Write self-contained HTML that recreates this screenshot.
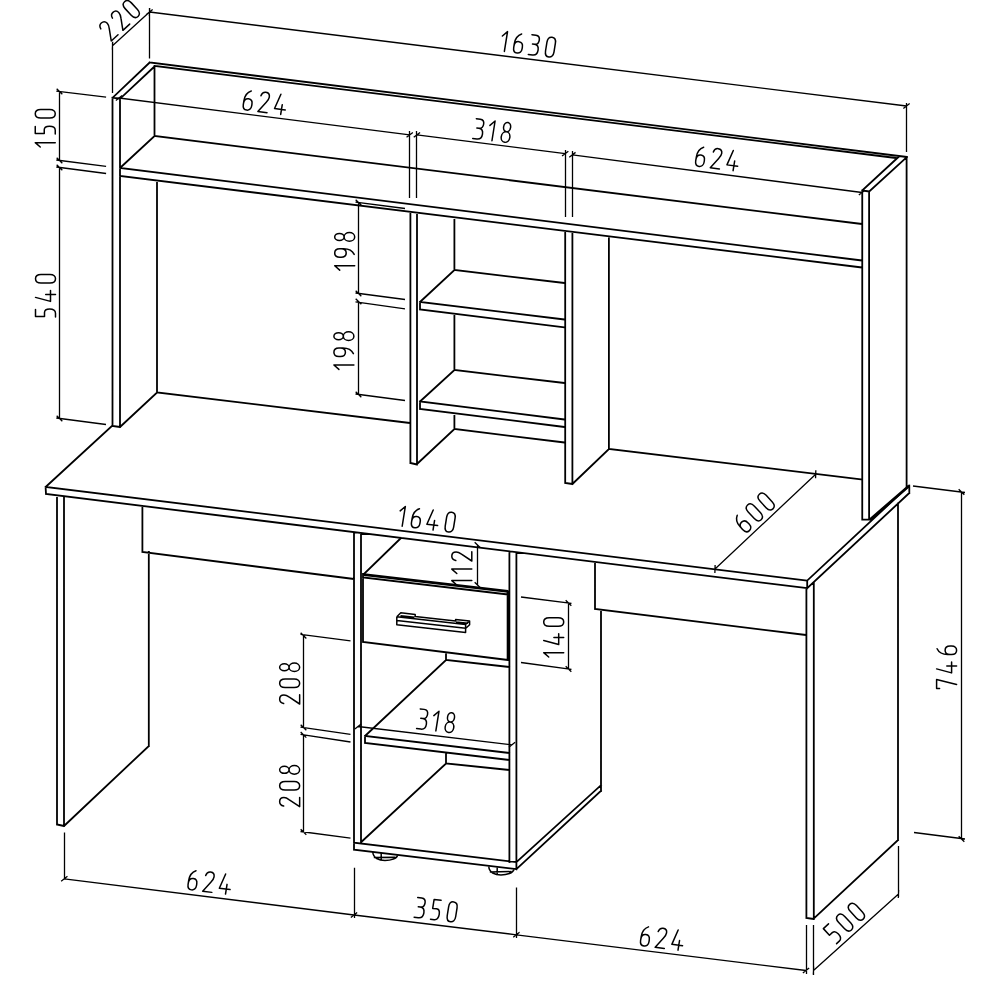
<!DOCTYPE html>
<html><head><meta charset="utf-8"><style>
html,body{margin:0;padding:0;background:#fff;width:1000px;height:1000px;overflow:hidden}
svg{display:block}
</style></head><body>
<svg width="1000" height="1000" viewBox="0 0 1000 1000">
<rect width="1000" height="1000" fill="#fff"/>
<path d="M112.5 97.8 L112.5 426 M120 98.5 L120 427 M112.5 426 L120 427 M112.5 97.8 L120 98.5 M112.5 97.8 L149.7 62.5 M120.5 98.3 L155 66 M149.7 62.5 L907 157 M155 66 L896 158 M154.5 66 L154.5 136 M154.5 136 L120 168 M154.5 136 L862 224 M120 168 L862 260.5 M120 176 L862 267.5 M157 180.6 L157 392.5 M157 392.5 L120 427 M157 392.5 L410 423 M410.4 212.3 L410.4 463 M417 213 L417 464.5 M410.4 463 L417 464.5 M454.4 218 L454.4 270 M454.4 314 L454.4 370 M454.4 414 L454.4 429 M454.4 429 L417 464 M454.4 270 L564.5 283 M454.4 270 L420 302 M420 302 L564.5 319.5 M420 309.5 L564.5 327.3 M420 302 L420 309.5 M454.4 370 L564.5 383 M454.4 370 L420 401.5 M420 401.5 L564.5 419.5 M420 409 L564.5 427 M420 401.5 L420 409 M454.4 429 L564.5 442.5 M565.2 231.6 L565.2 483 M572.4 232.5 L572.4 484 M565.2 483 L572.4 484 M608.9 237.6 L608.9 449 M608.9 449 L572.4 484 M608.9 449 L861 479.4 M862.25 190.5 L862.25 519.6 M869.1 191.5 L869.1 519.6 M906.6 157 L906.6 486 M862.25 190.5 L899 156.5 M869.25 191.5 L906.8 157.2 M862.25 190.5 L869.25 191.5 M862.4 519.6 L869 519.6 M112.4 425.6 L45.6 487 M45.6 487 L807.2 580.6 M807.2 580.6 L807.2 588.2 M46 494 L807.2 588.2 M45.6 487 L46 494 M807.2 580.6 L909 485.6 M807.2 588.2 L909.3 493 M909.3 485.6 L909.3 493 M57 495.6 L57 824.5 M64 497 L64 826 M57 824.5 L64 826 M148.8 552 L148.8 746 M148.8 746 L64 826 M142.4 506 L142.4 552 M142.4 552 L354 579 M354 532.5 L354 849.6 M361 533.5 L361 842.6 M509.4 551.5 L509.4 862.2 M516.4 552.5 L516.4 869.2 M354 842.6 L516.4 862.2 M354 849.6 L516.4 869.2 M601 610 L601 791 M601 785.2 L516.4 862.2 M601 790.8 L516.4 869.2 M364 574 L401 538 M363 577.5 L508 594.5 M363 574 L363 642 M363 642 L508 660 M507.6 591 L507.6 660 M446 653.5 L446 660 M446 660 L509.4 667 M446 660 L365 736 M365 736 L509.4 753 M365 743 L509.4 760 M365 736 L365 743 M446 753.5 L446 763.5 M446 763.5 L509.4 770 M446 763.5 L361.8 841.5 M595 562.5 L595 609 M595 609 L806 635 M806.4 588.2 L806.4 918 M813.8 582.5 L813.8 919 M806.4 918 L813.8 919 M898 503.5 L898 840 M898 840 L813.8 918.5" fill="none" stroke="#000" stroke-width="1.8" stroke-linecap="square" stroke-linejoin="miter"/>
<path d="M112.5 42.5 L112.5 93 M149.5 8 L149.5 58.5 M112.5 45.8 L149.5 12 M149.5 12 L906.5 106 M906.5 103 L906.5 152 M59.5 91.5 L59.5 160.5 M56.3 91.1 L106.1 97.1 M56.3 160 L106.1 166.3 M59.5 167.5 L59.5 418.5 M56.3 167 L106.1 173.5 M56.3 418 L106 424.5 M119 98 L409.7 134.9 M416.9 134.9 L565.2 153.6 M572.4 154.8 L862 192.5 M409.5 131 L409.5 198 M416.5 131 L416.5 198 M565.5 150 L565.5 217 M572.5 151 L572.5 217 M358.5 202.5 L358.5 293.5 M355.5 202.2 L405 208.5 M355.5 293 L405 299.5 M358.5 301.5 L358.5 394.5 M355.5 301.8 L405 308.8 M355.5 394 L405 400.5 M715 569 L815.7 474.3 M477.5 545 L477.5 585 M568.5 603 L568.5 669 M521 597 L571.5 603.3 M521 662.5 L571.5 669.3 M303.5 635.6 L303.5 727.5 M300.5 634.3 L350.5 640.8 M300.5 727.2 L350.5 734.4 M303.5 734.8 L303.5 832 M300.5 734.4 L350.5 742 M300.5 831.5 L350.5 838.2 M358 726.5 L512 744.8 M913 486 L965 492.5 M961.5 492 L961.5 839 M914 832.5 L965 839 M64.5 832.5 L64.5 879.5 M64.3 878.8 L354 915 M354.5 867.8 L354.5 918 M354 915 L516.4 934.8 M516.5 887.4 L516.5 938 M516.4 934.8 L806 970.5 M806.5 925 L806.5 974 M813.5 925 L813.5 975 M898.5 846 L898.5 897 M813.5 970.5 L898.5 894 M112.319 49.7959 L112.681 41.8041 M149.319 15.9959 L149.681 8.00412 M146.345 14.4583 L152.655 9.54169 M903.345 108.458 L909.655 103.542 M56.6716 88.6716 L62.3284 94.3284 M56.6716 157.672 L62.3284 163.328 M56.6716 164.672 L62.3284 170.328 M56.6716 415.672 L62.3284 421.328 M115.838 100.45 L122.162 95.5503 M406.538 137.35 L412.862 132.45 M413.74 137.352 L420.06 132.448 M562.04 156.052 L568.36 151.148 M569.23 157.24 L575.57 152.36 M858.83 194.94 L865.17 190.06 M355.672 199.672 L361.328 205.328 M355.672 290.672 L361.328 296.328 M355.672 298.672 L361.328 304.328 M355.672 391.672 L361.328 397.328 M714.877 572.998 L715.123 565.002 M815.577 478.298 L815.823 470.302 M474.672 542.172 L480.328 547.828 M474.672 582.172 L480.328 587.828 M565.672 600.172 L571.328 605.828 M565.672 666.172 L571.328 671.828 M300.672 632.772 L306.328 638.428 M300.672 724.672 L306.328 730.328 M300.672 731.972 L306.328 737.628 M300.672 829.172 L306.328 834.828 M354.858 728.975 L361.142 724.025 M508.858 747.275 L515.142 742.325 M958.672 489.172 L964.328 494.828 M958.672 836.172 L964.328 841.828 M61.1427 881.256 L67.4573 876.344 M350.843 917.456 L357.157 912.544 M350.85 917.465 L357.15 912.535 M513.25 937.265 L519.55 932.335 M513.247 937.261 L519.553 932.339 M802.847 972.961 L809.153 968.039 M813.29 974.494 L813.71 966.506 M898.29 897.994 L898.71 890.006" fill="none" stroke="#000" stroke-width="1.3" stroke-linecap="butt"/>
<path d="M396.8 616.8 L400.8 612.8 L415.2 614.4 L415.2 616.6 L455.6 621.1 L455.6 619.4 L469.6 620.9 L469.6 624.8 L465.6 628.5 M396.8 616.8 L396.8 624.8 L465.6 632.5 L465.6 624.5 L396.8 616.8 M396.8 620.6 L465.6 628.3 M465.6 624.5 L469.6 620.9 M400.5 615.8 L414.5 617.3 M456 622 L468 623.3 M372.8 852 C373 858 379 860.5 385 860.5 C391 860.5 397 858.5 397.6 855.3 M373.8 857.4 L395.5 857.2 M381.2 853 L381.2 860 M488.8 866.5 C489 872.5 495 875 501 875 C507 875 513 873 514 869.5 M489.8 871.9 L511.5 871.6 M497.2 867.5 L497.2 874.5" fill="none" stroke="#000" stroke-width="1.5" stroke-linejoin="round"/>
<path d="M364 574.6 L508 591.4 M869.6 520 L908.6 486.2" fill="none" stroke="#000" stroke-width="2.8"/>
<g fill="none" stroke="#000" stroke-width="1.5" stroke-linecap="round" stroke-linejoin="round"><g transform="translate(111.25 41) rotate(-42.5)"><path transform="translate(0.00 0)" d="M0.5 -16 C1 -18.5 2.8 -20 4.8 -20 C7.3 -20 9 -18.2 9 -15.7 C9 -13.8 8.2 -12.3 6.8 -10.3 L0 0 L9.2 0"/><path transform="translate(15.80 0)" d="M0.5 -16 C1 -18.5 2.8 -20 4.8 -20 C7.3 -20 9 -18.2 9 -15.7 C9 -13.8 8.2 -12.3 6.8 -10.3 L0 0 L9.2 0"/><path transform="translate(31.60 0)" d="M0.5 -14.5 C0.5 -18.3 2.3 -20 4.75 -20 C7.2 -20 9 -18.3 9 -14.5 L9 -5.5 C9 -1.7 7.2 0 4.75 0 C2.3 0 0.5 -1.7 0.5 -5.5 Z"/></g><g transform="translate(501.0 51.0) rotate(7.1) skewX(-2)"><path transform="translate(0.00 0)" d="M-1 -15 L3.4 -20 L3.4 0"/><path transform="translate(11.50 0)" d="M6.2 -19.5 C3 -18 0.5 -14.5 0.5 -9 L0.5 -5 M0.5 -6.5 C0.5 -9.8 2.3 -11.5 4.75 -11.5 C7.2 -11.5 9 -9.8 9 -6.5 L9 -5 C9 -1.7 7.2 0 4.75 0 C2.3 0 0.5 -1.7 0.5 -5 Z"/><path transform="translate(27.50 0)" d="M0.5 -20 L4.5 -20 C7.2 -20 8.6 -18.4 8.6 -15.6 C8.6 -12.6 7.2 -10.8 4.5 -10.8 L2.5 -10.8 M4.5 -10.8 C7.6 -10.8 9 -8.6 9 -5.5 C9 -2 7.4 0 4.2 0 L0 0"/><path transform="translate(43.50 0)" d="M0.5 -14.5 C0.5 -18.3 2.3 -20 4.75 -20 C7.2 -20 9 -18.3 9 -14.5 L9 -5.5 C9 -1.7 7.2 0 4.75 0 C2.3 0 0.5 -1.7 0.5 -5.5 Z"/></g><g transform="translate(55.25 146.05) rotate(-90)"><path transform="translate(0.00 0)" d="M-1 -15 L3.4 -20 L3.4 0"/><path transform="translate(11.50 0)" d="M8 -20 L1 -20 L1 -11 L4.8 -11 C7.3 -11 8.4 -9 8.4 -5.8 C8.4 -2.2 7 0 4.2 0 L0.5 0"/><path transform="translate(27.50 0)" d="M0.5 -14.5 C0.5 -18.3 2.3 -20 4.75 -20 C7.2 -20 9 -18.3 9 -14.5 L9 -5.5 C9 -1.7 7.2 0 4.75 0 C2.3 0 0.5 -1.7 0.5 -5.5 Z"/></g><g transform="translate(242.0 109.5) rotate(7.2) skewX(-2)"><path transform="translate(0.00 0)" d="M6.2 -19.5 C3 -18 0.5 -14.5 0.5 -9 L0.5 -5 M0.5 -6.5 C0.5 -9.8 2.3 -11.5 4.75 -11.5 C7.2 -11.5 9 -9.8 9 -6.5 L9 -5 C9 -1.7 7.2 0 4.75 0 C2.3 0 0.5 -1.7 0.5 -5 Z"/><path transform="translate(16.00 0)" d="M0.5 -16 C1 -18.5 2.8 -20 4.8 -20 C7.3 -20 9 -18.2 9 -15.7 C9 -13.8 8.2 -12.3 6.8 -10.3 L0 0 L9.2 0"/><path transform="translate(32.00 0)" d="M4 -20 L0 -5 L10.8 -5 M7 -9.8 L7 0"/></g><g transform="translate(472.7 138.4) rotate(7.0) skewX(-2)"><path transform="translate(0.00 0)" d="M0.5 -20 L4.5 -20 C7.2 -20 8.6 -18.4 8.6 -15.6 C8.6 -12.6 7.2 -10.8 4.5 -10.8 L2.5 -10.8 M4.5 -10.8 C7.6 -10.8 9 -8.6 9 -5.5 C9 -2 7.4 0 4.2 0 L0 0"/><path transform="translate(16.00 0)" d="M-1 -15 L3.4 -20 L3.4 0"/><path transform="translate(27.50 0)" d="M1.25 -15.3 A3.5 4.7 0 1 1 8.25 -15.3 A3.5 4.7 0 1 1 1.25 -15.3 Z M0.4500000000000002 -5.3 A4.3 5.3 0 1 1 9.05 -5.3 A4.3 5.3 0 1 1 0.4500000000000002 -5.3 Z"/></g><g transform="translate(694.4 165.8) rotate(7.2) skewX(-2)"><path transform="translate(0.00 0)" d="M6.2 -19.5 C3 -18 0.5 -14.5 0.5 -9 L0.5 -5 M0.5 -6.5 C0.5 -9.8 2.3 -11.5 4.75 -11.5 C7.2 -11.5 9 -9.8 9 -6.5 L9 -5 C9 -1.7 7.2 0 4.75 0 C2.3 0 0.5 -1.7 0.5 -5 Z"/><path transform="translate(16.00 0)" d="M0.5 -16 C1 -18.5 2.8 -20 4.8 -20 C7.3 -20 9 -18.2 9 -15.7 C9 -13.8 8.2 -12.3 6.8 -10.3 L0 0 L9.2 0"/><path transform="translate(32.00 0)" d="M4 -20 L0 -5 L10.8 -5 M7 -9.8 L7 0"/></g><g transform="translate(55.5 317.4) rotate(-90)"><path transform="translate(0.00 0)" d="M8 -20 L1 -20 L1 -11 L4.8 -11 C7.3 -11 8.4 -9 8.4 -5.8 C8.4 -2.2 7 0 4.2 0 L0.5 0"/><path transform="translate(16.00 0)" d="M4 -20 L0 -5 L10.8 -5 M7 -9.8 L7 0"/><path transform="translate(33.90 0)" d="M0.5 -14.5 C0.5 -18.3 2.3 -20 4.75 -20 C7.2 -20 9 -18.3 9 -14.5 L9 -5.5 C9 -1.7 7.2 0 4.75 0 C2.3 0 0.5 -1.7 0.5 -5.5 Z"/></g><g transform="translate(354.7 269.15) rotate(-90)"><path transform="translate(0.00 0)" d="M-1 -15 L3.4 -20 L3.4 0"/><path transform="translate(11.50 0)" d="M3.3 -0.5 C6.5 -2 9 -5.5 9 -11 L9 -15 M9 -13.5 C9 -10.2 7.2 -8.5 4.75 -8.5 C2.3 -8.5 0.5 -10.2 0.5 -13.5 L0.5 -15 C0.5 -18.3 2.3 -20 4.75 -20 C7.2 -20 9 -18.3 9 -15 Z"/><path transform="translate(27.50 0)" d="M1.25 -15.3 A3.5 4.7 0 1 1 8.25 -15.3 A3.5 4.7 0 1 1 1.25 -15.3 Z M0.4500000000000002 -5.3 A4.3 5.3 0 1 1 9.05 -5.3 A4.3 5.3 0 1 1 0.4500000000000002 -5.3 Z"/></g><g transform="translate(353.9 368.4) rotate(-90)"><path transform="translate(0.00 0)" d="M-1 -15 L3.4 -20 L3.4 0"/><path transform="translate(11.50 0)" d="M3.3 -0.5 C6.5 -2 9 -5.5 9 -11 L9 -15 M9 -13.5 C9 -10.2 7.2 -8.5 4.75 -8.5 C2.3 -8.5 0.5 -10.2 0.5 -13.5 L0.5 -15 C0.5 -18.3 2.3 -20 4.75 -20 C7.2 -20 9 -18.3 9 -15 Z"/><path transform="translate(27.50 0)" d="M1.25 -15.3 A3.5 4.7 0 1 1 8.25 -15.3 A3.5 4.7 0 1 1 1.25 -15.3 Z M0.4500000000000002 -5.3 A4.3 5.3 0 1 1 9.05 -5.3 A4.3 5.3 0 1 1 0.4500000000000002 -5.3 Z"/></g><g transform="translate(398.8 525.8) rotate(7.1) skewX(-2)"><path transform="translate(0.00 0)" d="M-1 -15 L3.4 -20 L3.4 0"/><path transform="translate(11.50 0)" d="M6.2 -19.5 C3 -18 0.5 -14.5 0.5 -9 L0.5 -5 M0.5 -6.5 C0.5 -9.8 2.3 -11.5 4.75 -11.5 C7.2 -11.5 9 -9.8 9 -6.5 L9 -5 C9 -1.7 7.2 0 4.75 0 C2.3 0 0.5 -1.7 0.5 -5 Z"/><path transform="translate(27.50 0)" d="M4 -20 L0 -5 L10.8 -5 M7 -9.8 L7 0"/><path transform="translate(45.40 0)" d="M0.5 -14.5 C0.5 -18.3 2.3 -20 4.75 -20 C7.2 -20 9 -18.3 9 -14.5 L9 -5.5 C9 -1.7 7.2 0 4.75 0 C2.3 0 0.5 -1.7 0.5 -5.5 Z"/></g><g transform="translate(471.8 584.0) rotate(-90)"><path transform="translate(0.00 0)" d="M-1 -15 L3.4 -20 L3.4 0"/><path transform="translate(11.50 0)" d="M-1 -15 L3.4 -20 L3.4 0"/><path transform="translate(23.00 0)" d="M0.5 -16 C1 -18.5 2.8 -20 4.8 -20 C7.3 -20 9 -18.2 9 -15.7 C9 -13.8 8.2 -12.3 6.8 -10.3 L0 0 L9.2 0"/></g><g transform="translate(745.9 533.8) rotate(-42.7)"><path transform="translate(0.00 0)" d="M6.2 -19.5 C3 -18 0.5 -14.5 0.5 -9 L0.5 -5 M0.5 -6.5 C0.5 -9.8 2.3 -11.5 4.75 -11.5 C7.2 -11.5 9 -9.8 9 -6.5 L9 -5 C9 -1.7 7.2 0 4.75 0 C2.3 0 0.5 -1.7 0.5 -5 Z"/><path transform="translate(16.00 0)" d="M0.5 -14.5 C0.5 -18.3 2.3 -20 4.75 -20 C7.2 -20 9 -18.3 9 -14.5 L9 -5.5 C9 -1.7 7.2 0 4.75 0 C2.3 0 0.5 -1.7 0.5 -5.5 Z"/><path transform="translate(32.00 0)" d="M0.5 -14.5 C0.5 -18.3 2.3 -20 4.75 -20 C7.2 -20 9 -18.3 9 -14.5 L9 -5.5 C9 -1.7 7.2 0 4.75 0 C2.3 0 0.5 -1.7 0.5 -5.5 Z"/></g><g transform="translate(563.7 656.05) rotate(-90)"><path transform="translate(0.00 0)" d="M-1 -15 L3.4 -20 L3.4 0"/><path transform="translate(11.50 0)" d="M4 -20 L0 -5 L10.8 -5 M7 -9.8 L7 0"/><path transform="translate(29.40 0)" d="M0.5 -14.5 C0.5 -18.3 2.3 -20 4.75 -20 C7.2 -20 9 -18.3 9 -14.5 L9 -5.5 C9 -1.7 7.2 0 4.75 0 C2.3 0 0.5 -1.7 0.5 -5.5 Z"/></g><g transform="translate(299.65 704.0) rotate(-90)"><path transform="translate(0.00 0)" d="M0.5 -16 C1 -18.5 2.8 -20 4.8 -20 C7.3 -20 9 -18.2 9 -15.7 C9 -13.8 8.2 -12.3 6.8 -10.3 L0 0 L9.2 0"/><path transform="translate(16.00 0)" d="M0.5 -14.5 C0.5 -18.3 2.3 -20 4.75 -20 C7.2 -20 9 -18.3 9 -14.5 L9 -5.5 C9 -1.7 7.2 0 4.75 0 C2.3 0 0.5 -1.7 0.5 -5.5 Z"/><path transform="translate(32.00 0)" d="M1.25 -15.3 A3.5 4.7 0 1 1 8.25 -15.3 A3.5 4.7 0 1 1 1.25 -15.3 Z M0.4500000000000002 -5.3 A4.3 5.3 0 1 1 9.05 -5.3 A4.3 5.3 0 1 1 0.4500000000000002 -5.3 Z"/></g><g transform="translate(299.65 806.6) rotate(-90)"><path transform="translate(0.00 0)" d="M0.5 -16 C1 -18.5 2.8 -20 4.8 -20 C7.3 -20 9 -18.2 9 -15.7 C9 -13.8 8.2 -12.3 6.8 -10.3 L0 0 L9.2 0"/><path transform="translate(16.00 0)" d="M0.5 -14.5 C0.5 -18.3 2.3 -20 4.75 -20 C7.2 -20 9 -18.3 9 -14.5 L9 -5.5 C9 -1.7 7.2 0 4.75 0 C2.3 0 0.5 -1.7 0.5 -5.5 Z"/><path transform="translate(32.00 0)" d="M1.25 -15.3 A3.5 4.7 0 1 1 8.25 -15.3 A3.5 4.7 0 1 1 1.25 -15.3 Z M0.4500000000000002 -5.3 A4.3 5.3 0 1 1 9.05 -5.3 A4.3 5.3 0 1 1 0.4500000000000002 -5.3 Z"/></g><g transform="translate(416.6 728.6) rotate(7.0) skewX(-2)"><path transform="translate(0.00 0)" d="M0.5 -20 L4.5 -20 C7.2 -20 8.6 -18.4 8.6 -15.6 C8.6 -12.6 7.2 -10.8 4.5 -10.8 L2.5 -10.8 M4.5 -10.8 C7.6 -10.8 9 -8.6 9 -5.5 C9 -2 7.4 0 4.2 0 L0 0"/><path transform="translate(16.00 0)" d="M-1 -15 L3.4 -20 L3.4 0"/><path transform="translate(27.50 0)" d="M1.25 -15.3 A3.5 4.7 0 1 1 8.25 -15.3 A3.5 4.7 0 1 1 1.25 -15.3 Z M0.4500000000000002 -5.3 A4.3 5.3 0 1 1 9.05 -5.3 A4.3 5.3 0 1 1 0.4500000000000002 -5.3 Z"/></g><g transform="translate(956.6 688.9) rotate(-90)"><path transform="translate(0.00 0)" d="M0.5 -17 L0.5 -20 L9.5 -20 L4.5 0"/><path transform="translate(16.00 0)" d="M4 -20 L0 -5 L10.8 -5 M7 -9.8 L7 0"/><path transform="translate(33.90 0)" d="M6.2 -19.5 C3 -18 0.5 -14.5 0.5 -9 L0.5 -5 M0.5 -6.5 C0.5 -9.8 2.3 -11.5 4.75 -11.5 C7.2 -11.5 9 -9.8 9 -6.5 L9 -5 C9 -1.7 7.2 0 4.75 0 C2.3 0 0.5 -1.7 0.5 -5 Z"/></g><g transform="translate(186.8 889.3) rotate(7.0) skewX(-2)"><path transform="translate(0.00 0)" d="M6.2 -19.5 C3 -18 0.5 -14.5 0.5 -9 L0.5 -5 M0.5 -6.5 C0.5 -9.8 2.3 -11.5 4.75 -11.5 C7.2 -11.5 9 -9.8 9 -6.5 L9 -5 C9 -1.7 7.2 0 4.75 0 C2.3 0 0.5 -1.7 0.5 -5 Z"/><path transform="translate(16.00 0)" d="M0.5 -16 C1 -18.5 2.8 -20 4.8 -20 C7.3 -20 9 -18.2 9 -15.7 C9 -13.8 8.2 -12.3 6.8 -10.3 L0 0 L9.2 0"/><path transform="translate(32.00 0)" d="M4 -20 L0 -5 L10.8 -5 M7 -9.8 L7 0"/></g><g transform="translate(414.1 917.2) rotate(7.0) skewX(-2)"><path transform="translate(0.00 0)" d="M0.5 -20 L4.5 -20 C7.2 -20 8.6 -18.4 8.6 -15.6 C8.6 -12.6 7.2 -10.8 4.5 -10.8 L2.5 -10.8 M4.5 -10.8 C7.6 -10.8 9 -8.6 9 -5.5 C9 -2 7.4 0 4.2 0 L0 0"/><path transform="translate(16.00 0)" d="M8 -20 L1 -20 L1 -11 L4.8 -11 C7.3 -11 8.4 -9 8.4 -5.8 C8.4 -2.2 7 0 4.2 0 L0.5 0"/><path transform="translate(32.00 0)" d="M0.5 -14.5 C0.5 -18.3 2.3 -20 4.75 -20 C7.2 -20 9 -18.3 9 -14.5 L9 -5.5 C9 -1.7 7.2 0 4.75 0 C2.3 0 0.5 -1.7 0.5 -5.5 Z"/></g><g transform="translate(639.3 945.4) rotate(7.0) skewX(-2)"><path transform="translate(0.00 0)" d="M6.2 -19.5 C3 -18 0.5 -14.5 0.5 -9 L0.5 -5 M0.5 -6.5 C0.5 -9.8 2.3 -11.5 4.75 -11.5 C7.2 -11.5 9 -9.8 9 -6.5 L9 -5 C9 -1.7 7.2 0 4.75 0 C2.3 0 0.5 -1.7 0.5 -5 Z"/><path transform="translate(16.00 0)" d="M0.5 -16 C1 -18.5 2.8 -20 4.8 -20 C7.3 -20 9 -18.2 9 -15.7 C9 -13.8 8.2 -12.3 6.8 -10.3 L0 0 L9.2 0"/><path transform="translate(32.00 0)" d="M4 -20 L0 -5 L10.8 -5 M7 -9.8 L7 0"/></g><g transform="translate(836.2 944.0) rotate(-42.7)"><path transform="translate(0.00 0)" d="M8 -20 L1 -20 L1 -11 L4.8 -11 C7.3 -11 8.4 -9 8.4 -5.8 C8.4 -2.2 7 0 4.2 0 L0.5 0"/><path transform="translate(16.00 0)" d="M0.5 -14.5 C0.5 -18.3 2.3 -20 4.75 -20 C7.2 -20 9 -18.3 9 -14.5 L9 -5.5 C9 -1.7 7.2 0 4.75 0 C2.3 0 0.5 -1.7 0.5 -5.5 Z"/><path transform="translate(32.00 0)" d="M0.5 -14.5 C0.5 -18.3 2.3 -20 4.75 -20 C7.2 -20 9 -18.3 9 -14.5 L9 -5.5 C9 -1.7 7.2 0 4.75 0 C2.3 0 0.5 -1.7 0.5 -5.5 Z"/></g></g>
</svg>
</body></html>
